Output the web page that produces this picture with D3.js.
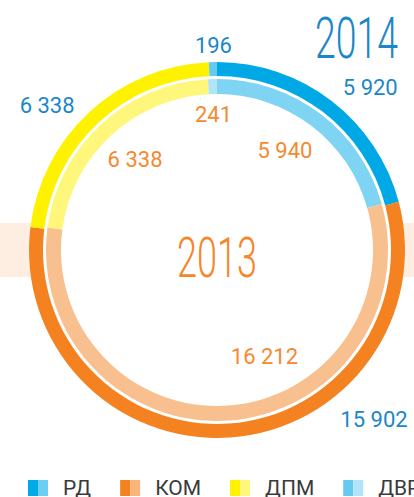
<!DOCTYPE html>
<html>
<head>
<meta charset="utf-8">
<script src="https://cdn.jsdelivr.net/npm/d3@7"></script>
<style>
  html, body { margin: 0; padding: 0; background: #fff; }
  svg { display: block; font-family: Roboto, "Noto Sans", sans-serif; }
</style>
</head>
<body>
<script>
  // data
  var categories = ['РД', 'КОМ', 'ДПМ', 'ДВР'];
  var values2014 = [5920, 15902, 6338, 196];
  var values2013 = [5940, 16212, 6338, 241];
  var yearOuter = '2014', yearInner = '2013';

  // styles
  var outerColors = ['#00a9e6', '#f58220', '#fff200', '#66c9ef'],
    innerColors  = ['#80d4f3', '#f8c08f', '#fff67c', '#b3e3f7'],
    legendDark   = ['#00a9e8', '#f58220', '#fff200', '#66c9ef'],
    legendLight  = ['#6dcef5', '#fbb57a', '#fff67a', '#b3e3f7'];

  // label placement (degrees clockwise from top, radius from centre)
  var outerLabelAngle = [43.3, 137.1, -49.5, -1.0],
    outerLabelRadius  = [223.5, 230.6, 223.4, 205],
    innerLabelAngle   = [34.2, 156, -42.2, -1.5],
    innerLabelRadius  = [121, 116.6, 122, 135.5];

  var width = 414, height = 497,
    cx = 217, cy = 250;

  var fmt = d3.formatLocale({decimal: ',', thousands: ' ', grouping: [3], currency: ['', '']}).format(',');

  var svg = d3.select('body').append('svg')
    .attr('width', width)
    .attr('height', height);

  // peach band behind the rings
  svg.append('rect')
    .attr('x', 0).attr('y', 223)
    .attr('width', width).attr('height', 54)
    .attr('fill', '#fdeee1');

  var g = svg.append('g')
    .attr('transform', 'translate(' + cx + ',' + cy + ')');

  g.append('circle').attr('r', 188).attr('fill', '#fff');

  var pie = d3.pie().sort(null).value(function(d) { return d; });

  var arcOuter = d3.arc().innerRadius(174).outerRadius(188),
    arcInner   = d3.arc().innerRadius(156).outerRadius(171);

  g.selectAll('path.outer')
    .data(pie(values2014))
    .enter().append('path')
    .attr('class', 'outer')
    .attr('d', arcOuter)
    .attr('fill', function(d, i) { return outerColors[i]; });

  g.selectAll('path.inner')
    .data(pie(values2013))
    .enter().append('path')
    .attr('class', 'inner')
    .attr('d', arcInner)
    .attr('fill', function(d, i) { return innerColors[i]; });

  function polar(a, r) {
    var rad = a * Math.PI / 180;
    return [r * Math.sin(rad), -r * Math.cos(rad)];
  }

  g.selectAll('text.outer-label')
    .data(values2014)
    .enter().append('text')
    .attr('class', 'outer-label')
    .attr('x', function(d, i) { return polar(outerLabelAngle[i], outerLabelRadius[i])[0]; })
    .attr('y', function(d, i) { return polar(outerLabelAngle[i], outerLabelRadius[i])[1]; })
    .attr('dy', '0.35em')
    .attr('text-anchor', 'middle')
    .style('font-size', '22px')
    .attr('fill', '#1b87c9')
    .text(function(d) { return fmt(d); });

  g.selectAll('text.inner-label')
    .data(values2013)
    .enter().append('text')
    .attr('class', 'inner-label')
    .attr('x', function(d, i) { return polar(innerLabelAngle[i], innerLabelRadius[i])[0]; })
    .attr('y', function(d, i) { return polar(innerLabelAngle[i], innerLabelRadius[i])[1]; })
    .attr('dy', '0.35em')
    .attr('text-anchor', 'middle')
    .style('font-size', '22px')
    .attr('fill', '#f5892f')
    .text(function(d) { return fmt(d); });

  // years
  svg.append('text')
    .attr('x', 315).attr('y', 58)
    .attr('textLength', 83)
    .attr('lengthAdjust', 'spacingAndGlyphs')
    .style('font-size', '58px')
    .style('font-weight', 300)
    .attr('fill', '#1b87c9')
    .text(yearOuter);

  svg.append('text')
    .attr('x', 177).attr('y', 277)
    .attr('textLength', 80)
    .attr('lengthAdjust', 'spacingAndGlyphs')
    .style('font-size', '56px')
    .style('font-weight', 300)
    .attr('fill', '#f5862a')
    .text(yearInner);

  // legend
  var legend = svg.append('g').attr('class', 'legend');
  var lx = 28;
  categories.forEach(function(c, i) {
    var item = legend.append('g').attr('transform', 'translate(' + lx + ',480)');
    item.append('rect').attr('width', 10).attr('height', 16).attr('fill', legendDark[i]);
    item.append('rect').attr('x', 10).attr('width', 10).attr('height', 16).attr('fill', legendLight[i]);
    var t = item.append('text')
      .attr('x', 35).attr('y', 15)
      .style('font-size', '21px')
      .attr('fill', '#3a3a3a')
      .text(c);
    lx += 35 + t.node().getComputedTextLength() + 29;
  });
</script>
</body>
</html>
